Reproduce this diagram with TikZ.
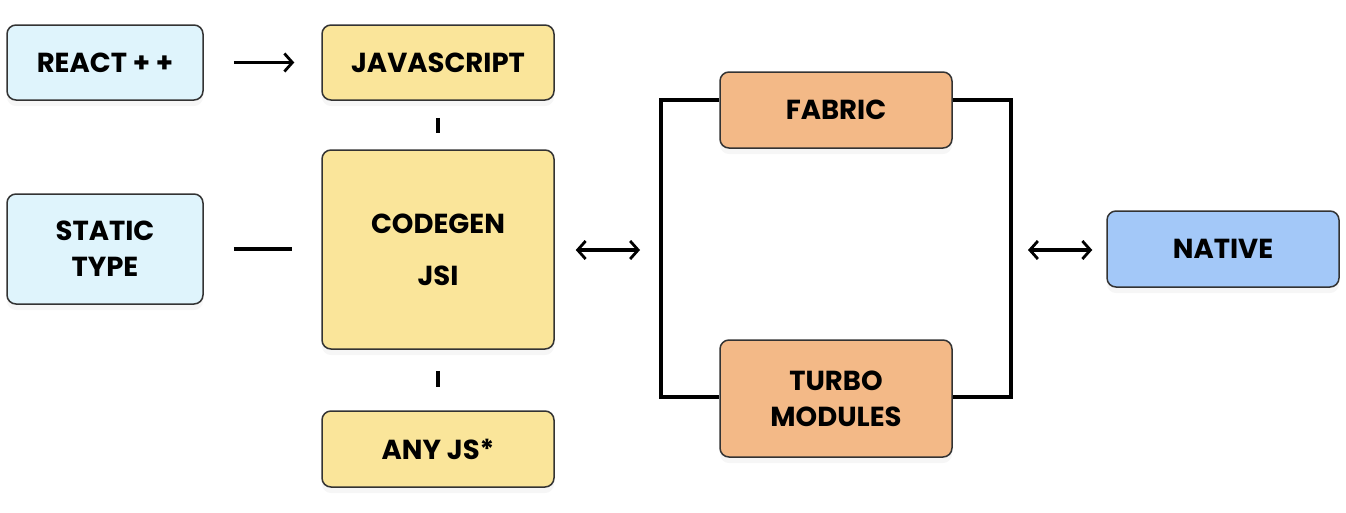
\documentclass[tikz,border=0pt]{standalone}
\usepackage{fontspec}
\setmainfont{Poppins}
\usetikzlibrary{arrows.meta,shadows,calc}
\definecolor{bxcyan}{HTML}{DFF4FC}
\definecolor{bxyellow}{HTML}{FAE59A}
\definecolor{bxorange}{HTML}{F3B987}
\definecolor{bxblue}{HTML}{A3C8F8}
\definecolor{bxborder}{HTML}{333333}
\tikzset{
  box/.style={draw=bxborder, line width=1.5pt, rounded corners=9pt, align=center,
    inner sep=0pt, font=\fontsize{27.5}{36}\selectfont\bfseries,
    drop shadow={opacity=0.07, shadow xshift=0pt, shadow yshift=-6pt}},
  conn/.style={line width=3.2pt, black},
  barb/.style={-{Straight Barb[length=8pt,width=18pt,line width=2.8pt]}},
  dbarb/.style={{Straight Barb[length=8pt,width=18pt,line width=2.8pt]}-{Straight Barb[length=8pt,width=18pt,line width=2.8pt]}},
  brk/.style={line width=3.4pt, black}
}
\begin{document}
\begin{tikzpicture}[x=1pt,y=-1pt]
\fill[white] (0,0) rectangle (1346,512);
\useasboundingbox (0,0) rectangle (1346,512);
\coordinate (bl) at (661,250);
\coordinate (br) at (1011,250);
\node[box, fill=bxcyan, minimum width=196pt, minimum height=75pt] (react) at (105,62.5) {REACT + +};
\node[box, fill=bxyellow, minimum width=232pt, minimum height=75pt] (js) at (438,62.5) {JAVASCRIPT};
\node[box, fill=bxcyan, minimum width=196pt, minimum height=110pt] (static) at (105,249) {STATIC\\TYPE};
\node[box, fill=bxyellow, minimum width=232pt, minimum height=199pt] (codegen) at (438,249.5) {CODEGEN\\[16pt]JSI};
\node[box, fill=bxyellow, minimum width=232pt, minimum height=76pt] (anyjs) at (438,449) {ANY JS*};
\node[box, fill=bxorange, minimum width=232pt, minimum height=76pt] (fabric) at (836,110) {FABRIC};
\node[box, fill=bxorange, minimum width=232pt, minimum height=117pt] (turbo) at (836,398.5) {TURBO\\MODULES};
\node[box, fill=bxblue, minimum width=232pt, minimum height=76pt] (native) at (1223,249) {NATIVE};
\draw[brk] ([yshift=10pt]fabric.west) -| (bl) |- ([yshift=1.5pt]turbo.west);
\draw[brk] ([yshift=10pt]fabric.east) -| (br) |- ([yshift=1.5pt]turbo.east);
\draw[conn, barb, shorten <=30pt, shorten >=27pt] (react) -- (js);
\draw[conn, shorten <=30pt, shorten >=29pt] (static) -- (static -| codegen.west);
\draw[conn, shorten <=17pt, shorten >=16pt] (js) -- (codegen);
\draw[conn, shorten <=21pt, shorten >=23pt] (codegen) -- (anyjs);
\draw[conn, dbarb, shorten <=21pt, shorten >=21pt] (codegen.east |- bl) -- (bl);
\draw[conn, dbarb, shorten <=17pt, shorten >=14pt] (br) -- (native.west |- br);
\end{tikzpicture}
\end{document}
